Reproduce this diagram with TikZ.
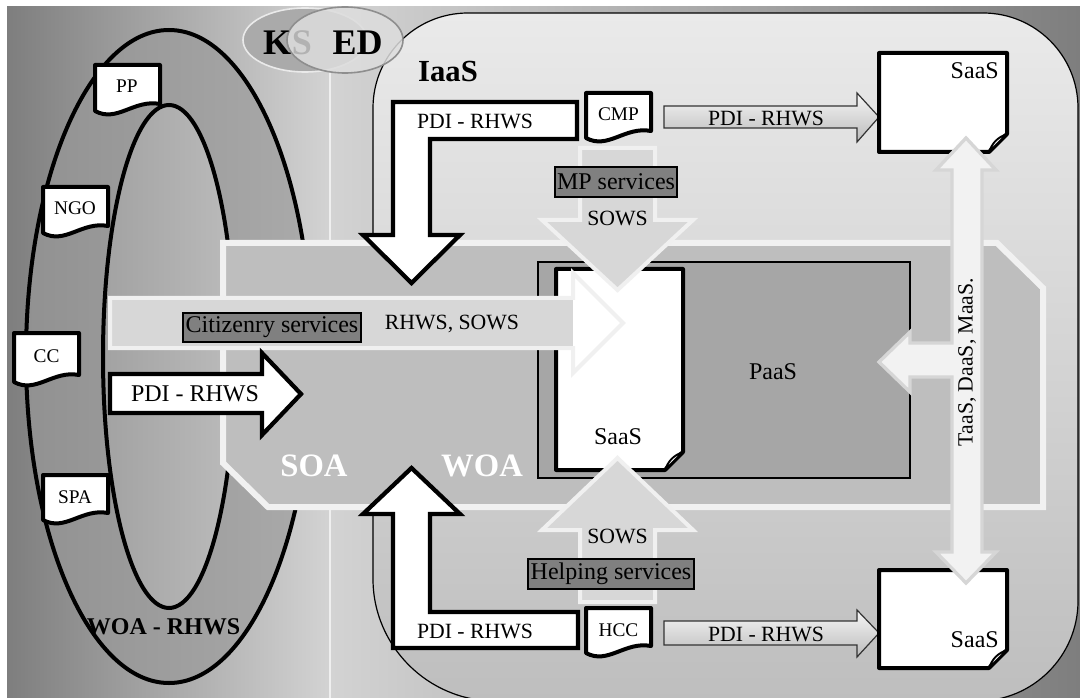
\documentclass[tikz,border=0pt]{standalone}
\usepackage{fontspec}
\setmainfont{Liberation Serif}
\definecolor{bgdark}{HTML}{7E7E7E}
\definecolor{bglight}{HTML}{D3D3D3}
\definecolor{vline}{HTML}{EFEFEF}
\definecolor{ringL}{HTML}{919191}
\definecolor{ringR}{HTML}{AAAAAA}
\definecolor{innL}{HTML}{A2A2A2}
\definecolor{innR}{HTML}{BBBBBB}
\definecolor{iaasT}{HTML}{EAEAEA}
\definecolor{iaasB}{HTML}{BEBEBE}
\definecolor{octfill}{HTML}{BEBEBE}
\definecolor{octline}{HTML}{F1F1F1}
\definecolor{paasfill}{HTML}{A6A6A6}
\definecolor{arrfill}{HTML}{D7D7D7}
\definecolor{arrline}{HTML}{F0F0F0}
\definecolor{boxgray}{HTML}{808080}
\definecolor{ksA}{HTML}{AAAAAA}
\definecolor{ksAline}{HTML}{EAEAEA}
\definecolor{ksB}{HTML}{DDDDDD}
\definecolor{ksBline}{HTML}{8E8E8E}
\definecolor{sgray}{HTML}{B2B2B2}
\definecolor{dblfill}{HTML}{F2F2F2}
\definecolor{dblline}{HTML}{D6D6D6}
\definecolor{smT}{HTML}{F6F6F6}
\definecolor{smB}{HTML}{BBBBBB}
\newcommand{\wavedoc}[3]{\draw[docst] (#1,#2) -- ++(65,0) -- ++(0,#3-7) .. controls +(-26,-5) and +(22,12) .. ++(-65,7) -- cycle;}
\newcommand{\folddoc}[4]{%
 \draw[docst] (#1,#2) -- (#3,#2) -- (#3,#4-18) -- (#3-18,#4) -- (#1,#4) -- cycle;
 \draw[line width=1.4pt,fill=white,line join=round] (#3-18,#4) .. controls (#3-15,#4-9) and (#3-9,#4-15) .. (#3,#4-18) -- cycle;}
\begin{document}
\begin{tikzpicture}[x=0.75pt,y=-0.75pt,
  docst/.style={draw=black,line width=3pt,fill=white,line join=round},
  blkarrow/.style={draw=black,line width=3.2pt,fill=white,line join=miter,miter limit=10},
  ltarrow/.style={draw=arrline,line width=3pt,fill=arrfill,line join=miter,miter limit=10},
  smallarrow/.style={draw=black!80,line width=0.9pt,top color=smT,bottom color=smB,line join=miter,miter limit=10},
  gbox/.style={draw=black,line width=0.8pt,fill=boxgray,inner sep=0pt,font=\fontsize{18}{20}\selectfont},
  t14/.style={font=\fontsize{14.5}{16}\selectfont,inner sep=0pt},
  t16/.style={font=\fontsize{16.3}{18}\selectfont,inner sep=0pt},
  t18/.style={font=\fontsize{18}{20}\selectfont,inner sep=0pt},
  kstext/.style={font=\fontsize{27}{30}\selectfont\bfseries,inner sep=0pt},
  archtext/.style={font=\fontsize{24.5}{26}\selectfont\bfseries,inner sep=0pt,text=white},
]
\useasboundingbox (0,0) rectangle (1080,698);
\fill[white] (0,0) rectangle (1080,698);
\shade[left color=bgdark,right color=bglight] (7,7) rectangle (330,698);
\shade[left color=bglight,right color=bgdark] (330,7) rectangle (1080,698);
\draw[vline,line width=2.2pt] (330,72) -- (330,698);

% IaaS area
\draw[draw=black,line width=0.9pt,top color=iaasT,bottom color=iaasB]
 (468,13) -- (983,13) .. controls (1035.5,13) and (1078,55.5) .. (1078,108)
 -- (1078,601) .. controls (1078,656) and (1033,701) .. (978,701)
 -- (495,701) .. controls (428,701) and (373,646) .. (373,579)
 -- (373,108) .. controls (373,55.5) and (415.5,13) .. (468,13) -- cycle;
\node[font=\fontsize{23}{25}\selectfont\bfseries,inner sep=0pt] (iaas) at (448,72) {IaaS};

% KS ED
\draw[draw=ksAline,line width=1.2pt,fill=ksA] (305,40) ellipse [x radius=62,y radius=32];
\draw[draw=ksBline,line width=1.2pt,fill=ksB,fill opacity=0.85] (345,40) ellipse [x radius=58,y radius=33];
\node[kstext] (k) at (277,43) {K};
\node[kstext,text=sgray] (s) at (302,43) {S};
\node[kstext] (ed) at (357.5,43) {ED};

% ring (rectangular shadings clipped to the ellipses)
\begin{scope}
 \clip (169,356.5) ellipse [x radius=143,y radius=326.5];
 \shade[left color=ringL,right color=ringR] (26,30) rectangle (312,683);
\end{scope}
\begin{scope}
 \clip (169,356.5) ellipse [x radius=66,y radius=251.5];
 \shade[left color=innL,right color=innR] (103,105) rectangle (235,608);
\end{scope}
\draw[line width=3pt,draw=black] (169,356.5) ellipse [x radius=143,y radius=326.5];
\draw[line width=3pt,draw=black] (169,356.5) ellipse [x radius=66,y radius=251.5];
\wavedoc{95}{65}{46}
\node[t14] (pp) at (127,86) {PP};
\wavedoc{43}{187}{46}
\node[t14] (ngo) at (75,208) {NGO};
\wavedoc{14}{333}{49}
\node[t14] (cc) at (46.5,356) {CC};
\wavedoc{43}{475}{45}
\node[t14] (spa) at (75,497) {SPA};
\node[font=\fontsize{18}{20}\selectfont\bfseries,inner sep=0pt] (woarhws) at (163.5,627) {WOA - RHWS};

% SOA / WOA area
\draw[draw=octline,line width=4.5pt,fill=octfill,line join=miter]
 (223,243) -- (997,243) -- (1043,288) -- (1043,507) -- (268,507) -- (223,463) -- cycle;
\node[archtext] (soa) at (314,466) {SOA};
\node[archtext] (woa) at (482,466) {WOA};

% PaaS
\draw[fill=paasfill,draw=black,line width=1pt] (538,262) rectangle (910,478);
\node[t18] (paas) at (773,372) {PaaS};
\folddoc{556}{269}{683}{470}
\node[t18] (saasc) at (618,437) {SaaS};

% MP / Helping arrows
\draw[ltarrow] (580,148) -- (655,148) -- (655,220) -- (693,220) -- (617.5,290) -- (542,220) -- (580,220) -- cycle;
\draw[ltarrow] (580,602) -- (655,602) -- (655,530) -- (693,530) -- (617.5,458) -- (542,530) -- (580,530) -- cycle;

% Citizenry arrow
\fill[arrfill] (110,298) rectangle (574,348);
\fill[white] (573,273) -- (623,323) -- (573,373) -- cycle;
\draw[draw=arrline,line width=3pt,line join=miter,miter limit=10]
 (110,298) -- (573,298) -- (573,273) -- (623,323) -- (573,373) -- (573,348) -- (110,348) -- cycle;
\node[gbox,minimum width=133.5pt,minimum height=21.75pt] (citz) at (272,327.5) {Citizenry services};
\node[t16] (rhsw) at (452,324) {RHWS, SOWS};

% left PDI arrow
\draw[blkarrow] (110,374) -- (262,374) -- (262,353) -- (301,394) -- (262,435) -- (262,413) -- (110,413) -- cycle;
\node[t18] (pdil) at (195,394) {PDI - RHWS};

% L arrows
\draw[blkarrow] (577,102) -- (393,102) -- (393,235) -- (363,235) -- (411.5,283) -- (460,235) -- (430,235) -- (430,139) -- (577,139) -- cycle;
\node[t16] (pdit) at (475,121) {PDI - RHWS};
\draw[blkarrow] (578,648) -- (393,648) -- (393,514) -- (363,514) -- (411.5,468) -- (460,514) -- (430,514) -- (430,612) -- (578,612) -- cycle;
\node[t16] (pdib) at (475,631) {PDI - RHWS};

% CMP / HCC
\wavedoc{586}{93}{45}
\node[t14] (cmp) at (618.5,114) {CMP};
\wavedoc{586}{608}{45}
\node[t14] (hcc) at (618.5,630) {HCC};

% small gradient arrows
\draw[smallarrow] (664,106) -- (857,106) -- (857,93) -- (879,117) -- (857,142) -- (857,128) -- (664,128) -- cycle;
\node[t16] (pdis1) at (766,118) {PDI - RHWS};
\draw[smallarrow] (664,621) -- (857,621) -- (857,610) -- (879,633) -- (857,657) -- (857,645) -- (664,645) -- cycle;
\node[t16] (pdis2) at (766,634) {PDI - RHWS};

% SaaS docs
\folddoc{879}{53}{1007}{152}
\node[t18,anchor=north east] (saas1) at (999,62) {SaaS};
\folddoc{879}{570}{1007}{668}
\node[t18,anchor=south east] (saas2) at (999,648) {SaaS};

% labels on light arrows
\node[gbox,minimum width=91.5pt,minimum height=22.5pt] (mp) at (616,182) {MP services};
\node[t16] (sows1) at (617.5,218) {SOWS};
\node[gbox,minimum width=124.5pt,minimum height=22.5pt] (help) at (611,574) {Helping services};
\node[t16] (sows2) at (617.5,536) {SOWS};

% vertical double arrow
\draw[draw=dblline,line width=2.5pt,fill=dblfill,line join=miter,miter limit=10]
 (966,138) -- (996,170) -- (982,170) -- (982,552) -- (996,552) -- (966,583) -- (936,552) -- (952,552)
 -- (952,377) -- (910,377) -- (910,392) -- (879,362) -- (910,332) -- (910,343) -- (952,343)
 -- (952,170) -- (936,170) -- cycle;
\node[t16,rotate=90] (tdm) at (967,362) {TaaS, DaaS, MaaS.};
\end{tikzpicture}
\end{document}
